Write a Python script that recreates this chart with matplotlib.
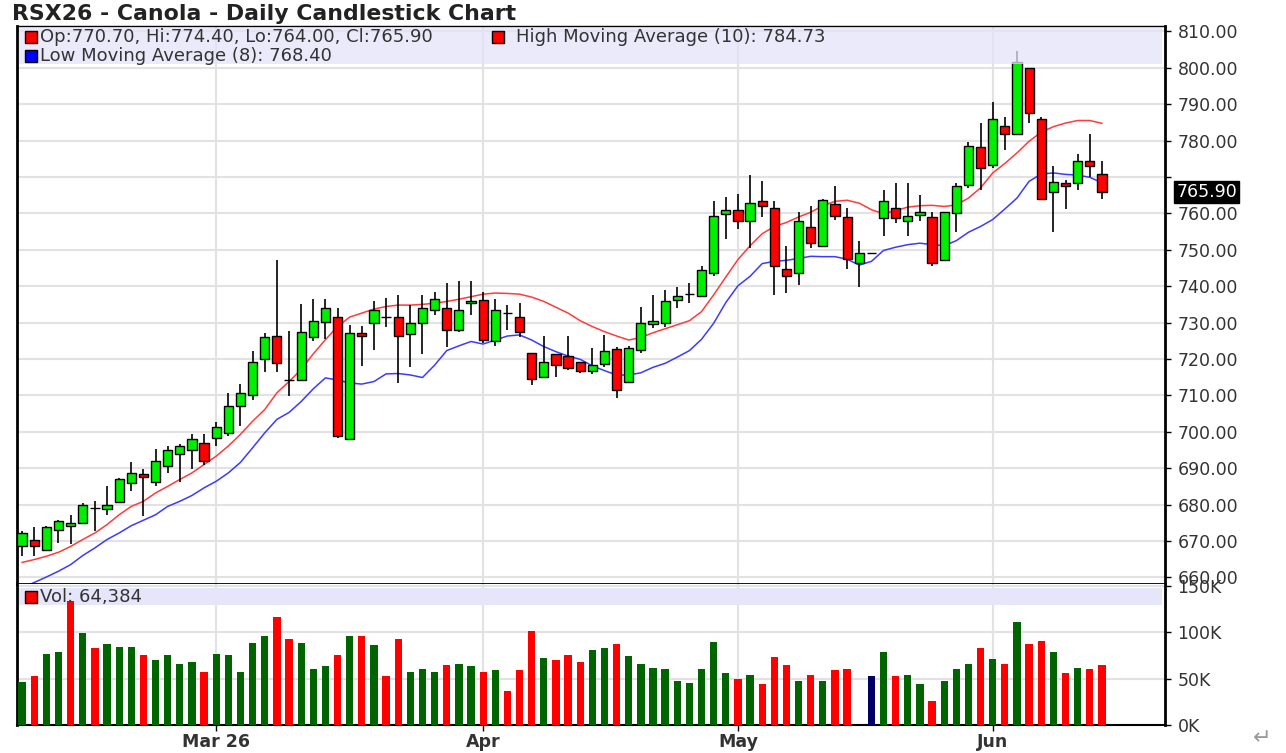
import numpy as np
import matplotlib
matplotlib.use("Agg")
import matplotlib.pyplot as plt
from matplotlib.patches import Rectangle
import matplotlib.transforms as mtransforms

# daily OHLC (Feb -> Jun 12)
opens = [668.5, 670.2, 667.6, 673.1, 674.2, 675.0, 679.1, 678.8, 680.7, 685.8,
         688.3, 686.1, 690.7, 693.8, 695.0, 696.8, 698.3, 699.7, 707.1, 710.0,
         720.1, 726.3, 714.1, 714.2, 725.9, 730.2, 731.4, 698.1, 727.1, 729.8,
         731.6, 731.5, 726.8, 730.0, 733.5, 733.9, 728.0, 735.3, 736.2, 724.8,
         732.6, 731.5, 721.5, 715.1, 721.4, 720.8, 719.3, 716.8, 718.6, 722.7,
         713.8, 722.5, 729.6, 729.8, 736.1, 737.9, 737.2, 743.6, 759.9, 760.8,
         757.8, 763.5, 761.5, 744.7, 743.6, 756.2, 750.9, 762.6, 759.0, 746.3,
         749.0, 758.7, 761.6, 758.0, 759.6, 759.0, 747.3, 760.1, 767.9, 778.3,
         773.4, 784.0, 781.7, 800.0, 786.0, 765.9, 768.2, 768.3, 774.3, 770.7]
highs = [672.7, 673.9, 674.2, 675.9, 677.0, 680.3, 680.9, 685.0, 687.3, 691.6,
         689.8, 695.4, 696.1, 696.6, 699.3, 699.3, 702.7, 710.7, 713.0, 722.2,
         727.2, 747.2, 727.7, 735.0, 736.6, 736.6, 734.1, 729.3, 729.1, 736.0,
         736.7, 737.6, 734.9, 737.6, 738.5, 740.8, 741.3, 741.3, 738.3, 736.4,
         734.9, 735.5, 721.5, 726.3, 721.4, 726.3, 719.3, 722.9, 726.6, 723.2,
         723.6, 734.4, 737.6, 739.0, 739.9, 741.0, 745.4, 763.3, 764.5, 765.4,
         770.4, 768.8, 763.3, 750.9, 760.5, 761.9, 764.0, 767.6, 761.5, 752.3,
         749.0, 766.5, 768.2, 768.3, 765.1, 760.5, 760.5, 768.2, 779.5, 784.9,
         790.6, 786.5, 804.6, 800.0, 786.5, 772.9, 769.1, 776.4, 781.7, 774.4]
lows = [665.8, 666.0, 667.3, 669.4, 669.3, 674.8, 672.7, 677.0, 680.4, 683.7,
        676.8, 685.0, 688.7, 686.1, 689.8, 691.0, 696.1, 698.8, 701.7, 708.7,
        716.4, 716.4, 709.8, 714.0, 725.0, 725.4, 698.3, 697.9, 718.1, 722.5,
        728.9, 713.5, 717.9, 721.3, 732.1, 723.2, 727.5, 732.1, 724.3, 723.6,
        728.0, 726.0, 712.8, 714.7, 715.1, 717.0, 716.2, 715.9, 717.9, 709.4,
        713.5, 721.5, 728.4, 728.9, 734.0, 735.5, 737.0, 742.7, 753.0, 755.7,
        750.5, 759.0, 737.6, 738.1, 740.4, 750.5, 750.7, 758.3, 744.7, 739.7,
        749.0, 753.7, 757.3, 753.7, 757.8, 745.6, 746.8, 755.0, 767.0, 766.3,
        772.5, 777.5, 781.4, 784.7, 763.8, 755.0, 761.2, 766.3, 770.0, 764.0]
closes = [672.2, 668.5, 673.9, 675.4, 675.0, 679.8, 679.1, 680.0, 686.9, 688.7,
          687.7, 691.9, 694.9, 696.1, 697.9, 691.9, 701.4, 707.2, 710.6, 719.2,
          726.1, 718.8, 714.1, 727.4, 730.3, 734.1, 698.8, 727.1, 726.2, 733.5,
          731.6, 726.3, 730.0, 733.9, 736.5, 728.0, 733.5, 736.0, 725.2, 733.5,
          732.6, 727.5, 714.4, 719.1, 718.3, 717.4, 716.8, 718.3, 722.3, 711.5,
          722.9, 729.8, 730.3, 735.8, 737.3, 737.9, 744.3, 759.4, 760.8, 757.8,
          762.8, 761.9, 745.6, 742.9, 757.8, 751.8, 763.8, 759.4, 747.4, 749.0,
          749.0, 763.3, 758.7, 759.4, 760.3, 746.3, 760.3, 767.4, 778.6, 772.5,
          786.0, 781.8, 801.6, 787.6, 764.0, 768.5, 767.6, 774.3, 772.9, 765.9]
volumes = [46500, 52600, 76600, 78400, 133900, 99200, 83100, 87400, 84100, 84100,
           75200, 69500, 75200, 66200, 67700, 57300, 76600, 75200, 57300, 88800,
           96300, 116000, 93100, 88800, 60500, 63400, 75200, 96300, 96300, 85900,
           52600, 93100, 57300, 60500, 57300, 64800, 66200, 63400, 57300, 59100,
           36200, 59100, 101000, 72300, 69500, 75200, 68000, 81300, 83100, 87700,
           74100, 66200, 61600, 60500, 46900, 45500, 60500, 89100, 56200, 50100,
           54100, 43700, 73700, 64800, 46900, 54400, 46900, 59100, 60500, 0,
           52600, 78400, 52600, 54100, 43700, 25800, 46900, 60500, 66200, 83100,
           71200, 66200, 111300, 87400, 90200, 78400, 55800, 61600, 60500, 64384]
high_ma10 = [664.1, 664.9, 665.8, 666.9, 668.5, 670.4, 672.2, 674.5, 677.2, 679.5,
             680.9, 683.2, 685.0, 686.9, 688.7, 691.0, 693.3, 696.1, 699.3, 702.9,
             706.1, 710.7, 713.8, 717.1, 721.4, 725.3, 728.9, 731.5, 732.6, 733.7,
             734.4, 734.8, 734.8, 735.0, 735.3, 735.8, 736.4, 737.1, 737.8, 738.1,
             738.0, 737.8, 737.0, 735.8, 734.2, 732.6, 730.5, 728.9, 727.5, 726.3,
             725.2, 725.9, 727.2, 728.3, 729.4, 730.5, 733.0, 737.6, 742.5, 747.3,
             751.1, 754.4, 756.4, 757.5, 759.0, 760.3, 762.1, 763.3, 763.6, 762.8,
             761.0, 759.9, 760.8, 761.7, 762.1, 762.2, 761.9, 762.3, 764.2, 767.0,
             771.1, 773.7, 776.6, 779.8, 782.3, 783.8, 784.8, 785.5, 785.5, 784.73]
low_ma8 = [657.1, 658.6, 660.1, 661.7, 663.5, 666.0, 668.1, 670.4, 672.2, 674.2,
           675.7, 677.2, 679.5, 680.9, 682.5, 684.6, 686.4, 688.7, 691.6, 695.6,
           699.7, 703.4, 705.3, 708.3, 711.8, 714.8, 714.2, 713.4, 713.1, 713.8,
           715.9, 716.0, 715.6, 714.9, 718.3, 722.3, 723.6, 724.8, 724.1, 725.2,
           726.3, 726.6, 725.2, 723.4, 722.0, 720.8, 719.9, 718.1, 716.8, 715.6,
           715.6, 716.2, 717.7, 718.8, 720.5, 722.3, 725.4, 729.8, 735.5, 740.1,
           742.7, 746.2, 746.8, 747.1, 747.6, 748.2, 748.1, 748.1, 747.4, 745.8,
           746.8, 749.8, 750.7, 751.4, 751.8, 751.4, 751.1, 752.5, 754.8, 756.4,
           758.3, 761.2, 764.2, 768.8, 770.8, 771.1, 770.7, 770.5, 769.9, 768.40]
month_pos = [16, 38, 59, 80]
month_labels = ["Mar 26", "Apr", "May", "Jun"]
price_ticks = np.arange(660, 811, 10)
vol_ticks = [0, 50000, 100000, 150000]

plt.rcParams['font.family'] = ['DejaVu Sans']

W, H = 1286, 753
fig = plt.figure(figsize=(W / 100, H / 100), dpi=100)


def px_axes(l, t, r, b):
    return fig.add_axes([l / W, 1 - b / H, (r - l) / W, (b - t) / H])


ax = px_axes(17, 25.5, 1165, 584.3)
axv = px_axes(17, 584.3, 1165, 725)

o = np.array(opens)
h = np.array(highs)
l = np.array(lows)
c = np.array(closes)
x = np.arange(len(o))

###### CANDLES ########
ax.plot(x, high_ma10, color='#ff3b3b', lw=1.1, zorder=1.5)
ax.plot(x, low_ma8, color='#3b3bff', lw=1.1, zorder=1.5)
ax.vlines(x, l, h, color='black', lw=1.2, zorder=2)
body_col = np.where(c > o, '#00ee00', np.where(c < o, '#ff0000', 'black'))
ax.bar(x, c - o, bottom=o, width=0.76, color=body_col, edgecolor='black',
       linewidth=1.0, zorder=3)

ax.set_xlim(-0.42, 94.2)
ax.set_ylim(658.1, 811.6)
ax.set_yticks(price_ticks)
ax.set_yticklabels(["" if v == 770 else "%.2f" % v for v in price_ticks])
ax.yaxis.tick_right()
ax.set_xticks(month_pos)
ax.set_xticklabels([])
ax.tick_params(axis='x', length=0)
ax.tick_params(axis='y', length=4, width=1, pad=5, labelsize=12.5,
               labelcolor='#333333')
ax.grid(True, color='#e2e2e2', lw=1.5, zorder=0)
ax.set_axisbelow(True)
for side, lw in [('left', 2), ('right', 2), ('top', 1), ('bottom', 2)]:
    ax.spines[side].set_linewidth(lw)
    ax.spines[side].set_color('black')

# legend band
ax.add_patch(Rectangle((0.002, 0.931), 0.995, 0.0645, transform=ax.transAxes,
                       facecolor='#e3e3fa', edgecolor='none', alpha=0.75, zorder=4))
leg_kw = dict(transform=ax.transAxes, fontsize=13, color='#333333', va='center', zorder=6)
ax.plot([0.0118], [0.9794], 's', ms=8, mfc='#ff0000', mec='black', mew=1,
        transform=ax.transAxes, zorder=6, clip_on=False)
ax.text(0.020, 0.9794, "Op:%.2f, Hi:%.2f, Lo:%.2f, Cl:%.2f" % (o[-1], h[-1], l[-1], c[-1]), **leg_kw)
ax.plot([0.4186], [0.9794], 's', ms=8, mfc='#ff0000', mec='black', mew=1,
        transform=ax.transAxes, zorder=6, clip_on=False)
ax.text(0.4347, 0.9794, "High Moving Average (10): %.2f" % high_ma10[-1], **leg_kw)
ax.plot([0.0118], [0.9454], 's', ms=8, mfc='#0000ff', mec='black', mew=1,
        transform=ax.transAxes, zorder=6, clip_on=False)
ax.text(0.020, 0.9454, "Low Moving Average (8): %.2f" % low_ma8[-1], **leg_kw)

# last price marker on the axis
trans = mtransforms.blended_transform_factory(ax.transAxes, ax.transData)
ax.text(1.0100, c[-1], "%.2f" % c[-1], transform=trans, fontsize=12.5, color='white',
        va='center', ha='left', zorder=7,
        bbox=dict(boxstyle='square,pad=0.12', facecolor='black', edgecolor='black'))

###### VOLUME ########
vcol = []
for i in range(len(c)):
    if i == 0 or c[i] > c[i - 1]:
        vcol.append('#006400')
    elif c[i] < c[i - 1]:
        vcol.append('#ff0000')
    else:
        vcol.append('#000066')
axv.bar(x, volumes, width=0.6, color=vcol, zorder=3)
axv.set_xlim(ax.get_xlim())
axv.set_ylim(0, 151600)
axv.set_yticks(vol_ticks)
axv.set_yticklabels(["%dK" % (v // 1000) for v in vol_ticks])
axv.yaxis.tick_right()
axv.set_xticks(month_pos)
axv.set_xticklabels(month_labels, fontweight='bold')
axv.tick_params(axis='x', length=4, width=1, pad=2, labelsize=12.5, labelcolor='#333333')
axv.tick_params(axis='y', length=4, width=1, pad=5, labelsize=12.5, labelcolor='#333333')
axv.grid(True, color='#e2e2e2', lw=1.5, zorder=0)
axv.set_axisbelow(True)
axv.spines['top'].set_visible(False)
for side, lw in [('left', 2), ('right', 2), ('bottom', 1.5)]:
    axv.spines[side].set_linewidth(lw)
    axv.spines[side].set_color('black')

axv.add_patch(Rectangle((0.002, 0.853), 0.995, 0.121, transform=axv.transAxes,
                        facecolor='#e6e6fa', edgecolor='none', zorder=1))
axv.plot([0.0118], [0.91], 's', ms=8, mfc='#ff0000', mec='black', mew=1,
         transform=axv.transAxes, zorder=6, clip_on=False)
axv.text(0.020, 0.91, "Vol: {:,}".format(volumes[-1]), transform=axv.transAxes,
         fontsize=13, color='#333333', va='center', zorder=6)

fig.text(12 / W, 1 - 14 / H, "RSX26 - Canola - Daily Candlestick Chart",
         fontsize=15.8, fontweight='bold', color='#222222', va='center', ha='left')
fig.text(1262 / W, 1 - 738 / H, "\u21b5", fontsize=16, color='#999999',
         va='center', ha='center')

fig.savefig("out.png", dpi=100)
